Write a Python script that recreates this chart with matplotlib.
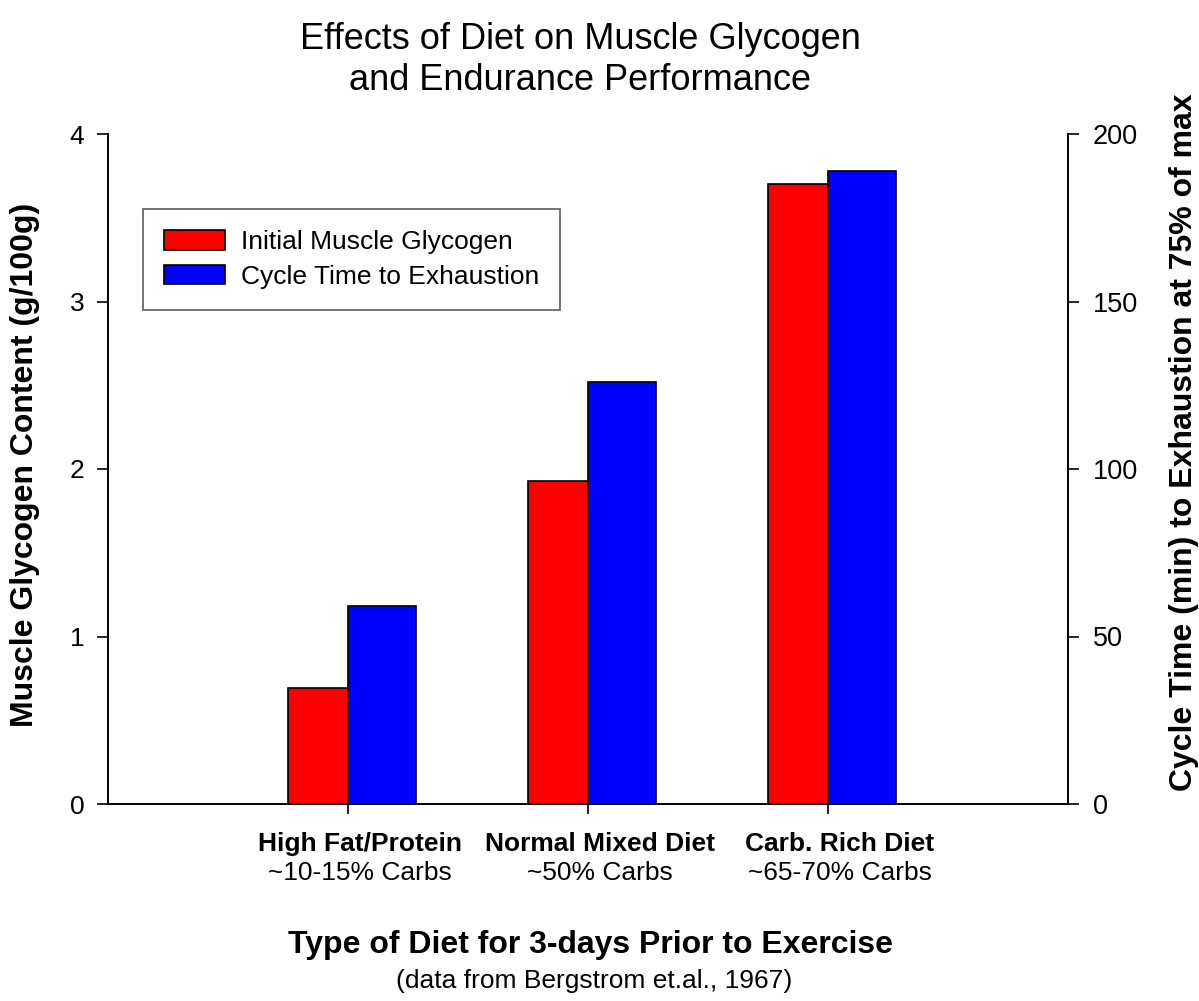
import numpy as np
import matplotlib
matplotlib.use("Agg")
import matplotlib.pyplot as plt
import matplotlib.transforms as mtransforms
from matplotlib.patches import Patch

plt.rcParams["font.family"] = ["Liberation Sans", "DejaVu Sans"]

# ── Data ──────────────────────────────────────────────────────────────────────
diet_names = ["High Fat/Protein", "Normal Mixed Diet", "Carb. Rich Diet"]
diet_carbs = ["~10-15% Carbs", "~50% Carbs", "~65-70% Carbs"]
glycogen   = [0.69, 1.93, 3.70]      # g/100g, left axis
cycle_time = [59, 126, 189]          # minutes, right axis

RED  = "#ff0000"
BLUE = "#0000ff"

# ── Figure ────────────────────────────────────────────────────────────────────
fig = plt.figure(figsize=(11.99, 10.01), dpi=100)
ax  = fig.add_axes([108 / 1199, 197 / 1001, 960 / 1199, 670 / 1001])
ax2 = ax.twinx()

x = np.arange(1, len(diet_names) + 1)
ax.bar(x, glycogen, width=-0.25, align="edge", color=RED,
       edgecolor="black", linewidth=1.2)
ax2.bar(x, cycle_time, width=0.283, align="edge", color=BLUE,
        edgecolor="black", linewidth=1.2)

ax.set_xlim(0, 4)
ax.set_ylim(0, 4)
ax2.set_ylim(0, 200)
ax.set_yticks([0, 1, 2, 3, 4])
ax2.set_yticks([0, 50, 100, 150, 200])

for a in (ax, ax2):
    a.spines["top"].set_visible(False)
    for s in a.spines.values():
        s.set_linewidth(1.4)
ax.spines["right"].set_visible(False)
ax2.spines["left"].set_visible(False)
ax2.spines["bottom"].set_visible(False)

ax.tick_params(axis="y", direction="out", length=8, width=1.2,
               pad=9, labelsize=19)
ax2.tick_params(axis="y", direction="out", length=8, width=1.2,
                pad=10, labelsize=19.5)
ax.set_xticks(x)
ax.set_xticklabels([])
ax.tick_params(axis="x", direction="out", length=7, width=1.2)

# two-line category labels (bold name + carb share)
trans = mtransforms.blended_transform_factory(ax.transData, ax.transAxes)
shift = 0.05
for xi, name, carbs in zip(x, diet_names, diet_carbs):
    ax.text(xi + shift, -0.059, name, transform=trans, ha="center",
            va="center", fontsize=19, fontweight="bold")
    ax.text(xi + shift, -0.103, carbs, transform=trans, ha="center",
            va="center", fontsize=19)

# axis labels / titles
fig.text(25 / 1199, 1 - 465 / 1001, "Muscle Glycogen Content (g/100g)",
         rotation=90, ha="center", va="center", fontsize=23, fontweight="bold")
fig.text(1184 / 1199, 1 - 442 / 1001,
         "Cycle Time (min) to Exhaustion at 75% of max",
         rotation=90, ha="center", va="center", fontsize=23, fontweight="bold")
fig.text(590 / 1199, 1 - 945 / 1001, "Type of Diet for 3-days Prior to Exercise",
         ha="center", va="center", fontsize=23, fontweight="bold")
fig.text(594 / 1199, 1 - 981 / 1001, "(data from Bergstrom et.al., 1967)",
         ha="center", va="center", fontsize=19)
fig.text(580 / 1199, 1 - 60 / 1001,
         "Effects of Diet on Muscle Glycogen\nand Endurance Performance",
         ha="center", va="center", fontsize=26, linespacing=1.25)

# legend
handles = [Patch(facecolor=RED, edgecolor="black", linewidth=1.2),
           Patch(facecolor=BLUE, edgecolor="black", linewidth=1.2)]
leg = ax2.legend(handles, ["Initial Muscle Glycogen", "Cycle Time to Exhaustion"],
                 loc="upper left", bbox_to_anchor=(0.0365, 0.888),
                 borderaxespad=0, fontsize=19, fancybox=False, frameon=True,
                 handlelength=2.3, handleheight=0.75, handletextpad=0.6,
                 labelspacing=0.4, borderpad=0.8)
leg.get_frame().set_edgecolor("#333333")
leg.get_frame().set_linewidth(1.2)

fig.savefig("out.png", dpi=100)
